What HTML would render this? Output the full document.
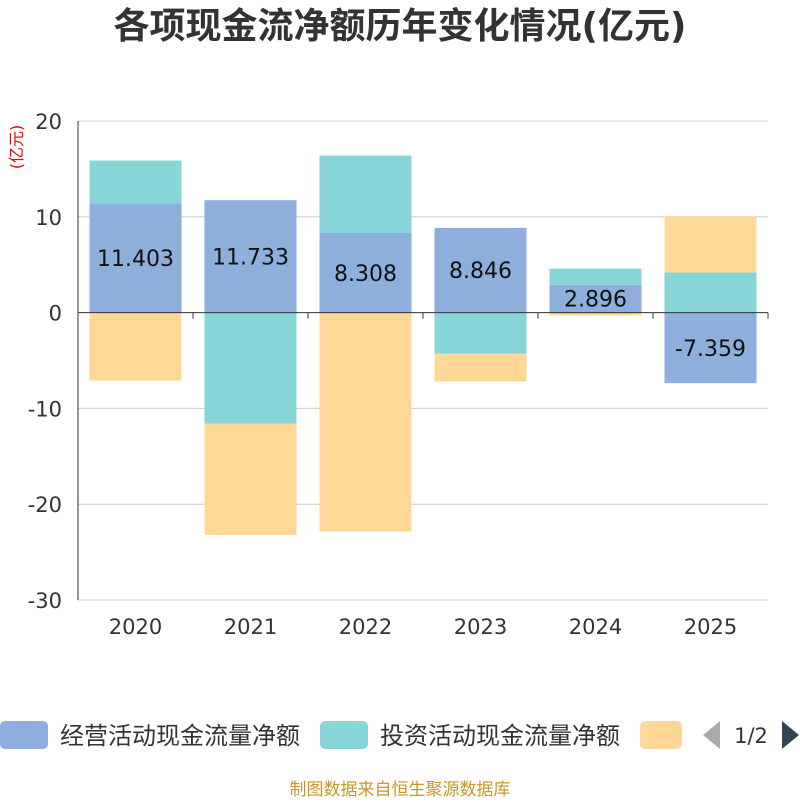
<!DOCTYPE html>
<html><head><meta charset="utf-8"><style>
body{margin:0;background:#fff;font-family:"Liberation Sans","Noto Sans CJK SC",sans-serif;}
</style></head><body>
<svg id="c" width="800" height="800" xmlns="http://www.w3.org/2000/svg" style="font-family:'DejaVu Sans','Noto Sans CJK SC',sans-serif">
<text x="400" y="38" text-anchor="middle" font-size="36" font-weight="bold" fill="#333">各项现金流净额历年变化情况(亿元)</text>
<text transform="translate(22,147) rotate(-90)" text-anchor="middle" font-size="16" fill="#e00">(亿元)</text>
<g id="grid"></g><g id="bars"></g><g id="axes"></g>
<g>
<rect x="0" y="721" width="48" height="28" rx="5" fill="#8eaedb"/>
<text x="60" y="744" font-size="24" fill="#333">经营活动现金流量净额</text>
<rect x="320" y="721" width="48" height="28" rx="5" fill="#88d5d8"/>
<text x="380" y="744" font-size="24" fill="#333">投资活动现金流量净额</text>
<rect x="640" y="721" width="42" height="28" rx="5" fill="#ffd898"/>
<polygon points="720,721 720,749 703,735" fill="#aaa"/>
<text x="751" y="743" font-size="21" fill="#333" text-anchor="middle">1/2</text>
<polygon points="782,721 782,749 799,735" fill="#2f4554"/>
</g>
<text x="400" y="795" text-anchor="middle" font-size="17" fill="#c8962a">制图数据来自恒生聚源数据库</text>
</svg>
<script>
const categories=["2020","2021","2022","2023","2024","2025"];
const operating=[11.403,11.733,8.308,8.846,2.896,-7.359];
const investing=[4.47,-11.6,8.08,-4.28,1.7,4.18];
const financing=[-7.1,-11.6,-22.86,-2.92,-0.3,5.84];
const yTicks=[20,10,0,-10,-20,-30];
const NS="http://www.w3.org/2000/svg";
const X0=78,X1=768,Y20=121,Y_30=600;
const y=v=>Y20+(20-v)*(Y_30-Y20)/50;
const band=(X1-X0)/categories.length;
const xc=i=>X0+band*(i+0.5);
function mk(tag,attrs,parent){const e=document.createElementNS(NS,tag);for(const k in attrs)e.setAttribute(k,attrs[k]);document.getElementById(parent).appendChild(e);return e;}
yTicks.forEach(t=>{
 const l=mk('line',{x1:X0,x2:X1,y1:y(t),y2:y(t),stroke:t===0?'#333':'#ccc','stroke-width':1},t===0?'axes':'grid');
 
 
 const tx=mk('text',{x:X0-16,y:y(t)+8,'text-anchor':'end','font-size':21,fill:'#333'},'axes');
 tx.textContent=t;
 
 
});
const ya=mk('line',{x1:X0,x2:X0,y1:Y20,y2:Y_30,stroke:'#333'},'axes');


for(let i=0;i<=categories.length;i++){
 const tk=mk('line',{x1:X0+band*i,x2:X0+band*i,y1:y(0),y2:y(0)+6,stroke:'#333'},'axes');
 
 
}
const series=[[operating,'#8eaedb','operating'],[investing,'#88d5d8','investing'],[financing,'#ffd898','financing']];
const bw=92;
categories.forEach((c,i)=>{
 let pos=0,neg=0;
 series.forEach(([arr,col,nm])=>{
  const v=arr[i];let a,b;
  if(v>=0){a=pos;b=pos+v;pos=b;}else{a=neg;b=neg+v;neg=b;}
  const r=mk('rect',{x:xc(i)-bw/2,y:Math.min(y(a),y(b)),width:bw,height:Math.abs(y(a)-y(b)),fill:col},'bars');
  
  
  if(nm==='operating'){
   const t=mk('text',{x:xc(i),y:(y(a)+y(b))/2+8,'text-anchor':'middle','font-size':22,fill:'#111'},'bars');
   t.textContent=v.toFixed(3);
   
   
  }
 });
 const xl=mk('text',{x:xc(i),y:634,'text-anchor':'middle','font-size':21,fill:'#333'},'axes');
 xl.textContent=c;
 
 
});
</script>
</body></html>
